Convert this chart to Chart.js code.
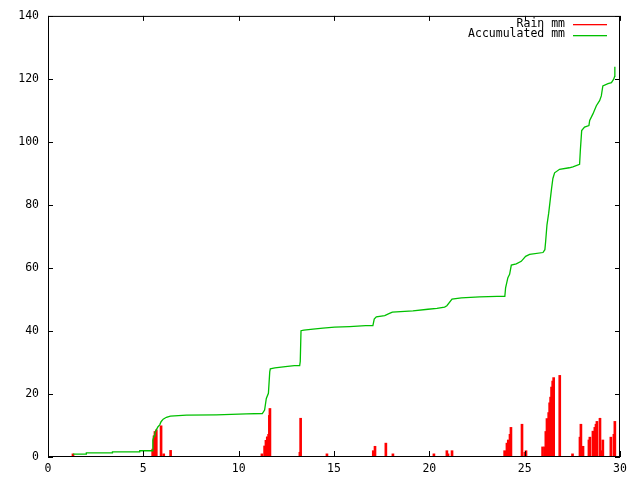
<!DOCTYPE html>
<html>
<head>
<meta charset="utf-8">
<script src="https://cdn.jsdelivr.net/npm/chart.js"></script>
<style>
  html, body { margin: 0; padding: 0; background: #fff; }
  #box { width: 640px; height: 480px; }
</style>
</head>
<body>
<div id="box"><canvas id="myChart"></canvas></div>
<script>
// rain per reading (day of month, mm)
const rainDays = [1.31,
  5.49, 5.56, 5.61, 5.68, 5.93, 6.07, 6.43,
  11.22, 11.36, 11.43, 11.5, 11.57, 11.61, 11.64,
  13.21, 13.25, 14.63,
  17.06, 17.15, 17.72, 18.09,
  20.24, 20.92, 20.98, 21.19,
  23.95, 24.07, 24.14, 24.23, 24.28, 24.86, 25.01, 25.07,
  25.94, 26.06, 26.11, 26.17, 26.26, 26.31, 26.36, 26.41, 26.47, 26.52, 26.84, 27.51,
  27.9, 27.95, 28.0, 28.06, 28.37, 28.42, 28.58, 28.68, 28.74, 28.79, 28.95, 29.0, 29.05, 29.1,
  29.52, 29.68, 29.73];
const rainMm = [1.0,
  2.5, 6.7, 8.1, 8.6, 9.9, 1.0, 2.1,
  1.0, 3.5, 5.3, 6.4, 7.2, 13.2, 15.4,
  1.5, 12.3, 1.0,
  2.0, 3.4, 4.4, 1.0,
  1.0, 2.0, 1.0, 2.0,
  2.0, 4.4, 5.4, 7.2, 9.4, 10.4, 1.5, 2.0,
  3.2, 3.2, 8.1, 12.2, 14.1, 17.2, 19.0, 22.2, 24.1, 25.2, 25.9, 1.0,
  6.3, 10.4, 2.0, 3.4, 5.4, 6.3, 8.2, 9.4, 10.4, 11.3, 12.3, 1.0, 2.0, 5.4,
  6.3, 7.2, 11.3];

// accumulated total
const accDays = [1.31, 2.01, 2.01, 3.38, 3.38, 4.81, 4.81, 5.49,
  5.5, 5.56, 5.61, 5.68, 5.77, 5.86, 5.93, 6.04, 6.21, 6.42, 7.26, 8.83, 10.4, 11.24,
  11.36, 11.45, 11.56, 11.63, 11.66, 11.9, 12.45, 12.92, 13.2, 13.23, 13.27, 13.42,
  13.9, 14.42, 15.03, 15.82, 16.66, 17.04, 17.11, 17.22, 17.66, 17.88, 18.06, 19.14,
  19.93, 20.4, 20.8, 20.92, 21.19, 21.68, 22.64, 23.55, 23.96, 24.0, 24.12, 24.21,
  24.3, 24.56, 24.82, 25.05, 25.26, 25.96, 26.06, 26.1, 26.17, 26.26, 26.35, 26.41,
  26.48, 26.57, 26.83, 27.34, 27.53, 27.88, 27.92, 27.99, 28.14, 28.37, 28.41, 28.58,
  28.76, 28.93, 29.02, 29.1, 29.37, 29.55, 29.67, 29.72, 29.73];
const accMm = [0.94, 0.94, 1.3, 1.3, 1.65, 1.65, 1.98, 1.98,
  5.4, 6.7, 7.7, 8.6, 9.6, 10.2, 11.2, 12.0, 12.6, 13.0, 13.3, 13.4, 13.7, 13.8,
  14.9, 18.6, 20.2, 27.0, 28.0, 28.3, 28.7, 29.0, 29.0, 30.3, 40.1, 40.3,
  40.6, 40.9, 41.2, 41.4, 41.7, 41.7, 43.8, 44.5, 44.9, 45.5, 46.0, 46.4,
  46.9, 47.2, 47.6, 48.0, 50.1, 50.5, 50.8, 51.0, 51.0, 53.7, 56.9, 58.0,
  60.9, 61.3, 62.1, 63.7, 64.3, 64.9, 65.8, 68.4, 73.7, 77.4, 82.1, 85.2,
  88.4, 90.2, 91.3, 91.8, 92.1, 92.9, 97.3, 103.6, 104.7, 105.2, 106.8, 108.9,
  111.5, 113.1, 114.6, 117.8, 118.5, 118.8, 119.9, 120.8, 123.9];

const xTicks = [0, 5, 10, 15, 20, 25, 30];
const yTicks = [0, 20, 40, 60, 80, 100, 120, 140];

const rainColor = '#ff0000';
const accColor = '#00c000';
const monoFont = { family: "'DejaVu Sans Mono', 'Liberation Mono', monospace", size: 11.5 };

// gnuplot style frame, inward mirrored ticks and key
const gnuplotFrame = {
  id: 'gnuplotFrame',
  afterDraw(chart) {
    const { ctx, chartArea: a, scales } = chart;
    const x = scales.x, y = scales.y;
    ctx.save();
    ctx.strokeStyle = '#000';
    ctx.lineWidth = 1;
    ctx.strokeRect(a.left + 0.5, a.top + 0.5, a.right - a.left - 1, a.bottom - a.top - 1);
    ctx.beginPath();
    xTicks.forEach(v => {
      const px = Math.round(x.getPixelForValue(v)) + 0.5;
      ctx.moveTo(px, a.bottom); ctx.lineTo(px, a.bottom - 6);
      ctx.moveTo(px, a.top); ctx.lineTo(px, a.top + 5);
    });
    yTicks.forEach(v => {
      const py = Math.round(y.getPixelForValue(v)) + 0.5;
      ctx.moveTo(a.left, py); ctx.lineTo(a.left + 5, py);
      ctx.moveTo(a.right, py); ctx.lineTo(a.right - 5, py);
    });
    ctx.stroke();

    // key
    const keyColors = [rainColor, accColor];
    ctx.font = monoFont.size + 'px ' + monoFont.family;
    ctx.textAlign = 'right';
    ctx.textBaseline = 'middle';
    chart.data.datasets.forEach((ds, i) => {
      const ty = 24 + i * 10.5;
      ctx.fillStyle = '#000';
      ctx.fillText(ds.label, 565, ty);
      ctx.fillStyle = keyColors[i];
      ctx.fillRect(573, Math.round(ty), 34, 1.3);
    });
    ctx.restore();
  }
};

const data = {
  datasets: [{
    type: 'bar',
    label: 'Rain mm',
    data: rainDays.map((d, i) => ({ x: d, y: rainMm[i] })),
    backgroundColor: rainColor,
    borderWidth: 0,
    barThickness: 2,
    grouped: false,
    order: 1
  }, {
    type: 'line',
    label: 'Accumulated mm',
    data: accDays.map((d, i) => ({ x: d, y: accMm[i] })),
    borderColor: accColor,
    borderWidth: 1.3,
    pointRadius: 0,
    tension: 0,
    fill: false,
    order: 0
  }]
};

const config = {
  type: 'bar',
  data,
  options: {
    responsive: true,
    maintainAspectRatio: false,
    animation: false,
    layout: { padding: { left: 0, top: 14, right: 20, bottom: 0 } },
    plugins: { legend: { display: false }, tooltip: { enabled: false } },
    scales: {
      x: {
        type: 'linear',
        min: 0, max: 30,
        offset: false,
        grid: { display: false, drawTicks: false, offset: false },
        border: { display: false },
        ticks: { stepSize: 5, padding: 5, color: '#000', font: monoFont, maxRotation: 0 },
        afterFit(scale) { scale.height = 23; }
      },
      y: {
        min: 0, max: 140,
        grid: { display: false, drawTicks: false },
        border: { display: false },
        ticks: { stepSize: 20, padding: 9, color: '#000', font: monoFont },
        afterFit(scale) { scale.width = 48; }
      }
    }
  },
  plugins: [gnuplotFrame]
};

const myChart = new Chart(document.getElementById('myChart'), config);
</script>
</body>
</html>
